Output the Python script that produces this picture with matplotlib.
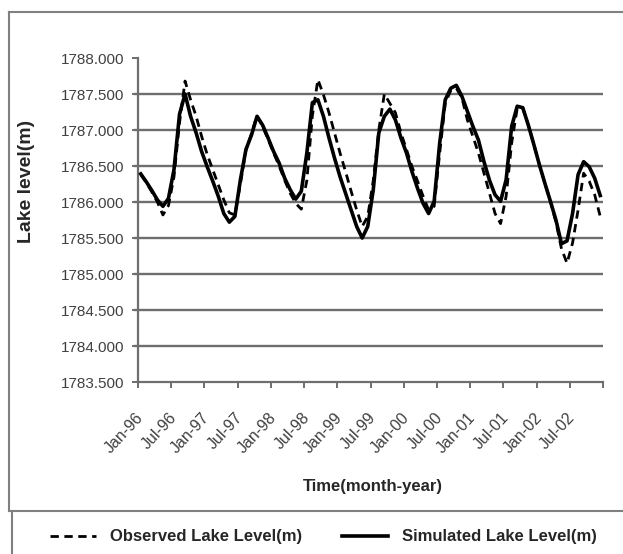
import matplotlib
matplotlib.use('Agg')
import matplotlib.pyplot as plt
from matplotlib.lines import Line2D

plt.rcParams['font.family'] = ['Liberation Sans', 'DejaVu Sans']

simulated = [1786.39, 1786.28, 1786.16, 1786.03, 1785.94, 1786.05, 1786.45, 1787.22, 1787.50, 1787.19,
             1786.96, 1786.70, 1786.49, 1786.29, 1786.08, 1785.84, 1785.72, 1785.80, 1786.31, 1786.73,
             1786.93, 1787.19, 1787.07, 1786.89, 1786.70, 1786.54, 1786.33, 1786.17, 1786.04, 1786.15,
             1786.68, 1787.38, 1787.42, 1787.19, 1786.89, 1786.61, 1786.35, 1786.12, 1785.89, 1785.66,
             1785.50, 1785.66, 1786.17, 1786.96, 1787.19, 1787.29, 1787.14, 1786.89, 1786.68, 1786.42,
             1786.19, 1785.98, 1785.84, 1786.01, 1786.82, 1787.42, 1787.58, 1787.62, 1787.47, 1787.26,
             1787.05, 1786.86, 1786.56, 1786.30, 1786.10, 1786.01, 1786.31, 1787.05, 1787.33, 1787.31,
             1787.07, 1786.80, 1786.52, 1786.26, 1786.01, 1785.75, 1785.42, 1785.46, 1785.84, 1786.38,
             1786.56, 1786.49, 1786.33, 1786.09]

observed = [1786.38, 1786.27, 1786.14, 1786.00, 1785.82, 1785.95, 1786.35, 1787.10, 1787.68, 1787.42,
            1787.19, 1786.91, 1786.66, 1786.45, 1786.24, 1786.03, 1785.85, 1785.82, 1786.25, 1786.72,
            1786.95, 1787.20, 1787.05, 1786.87, 1786.68, 1786.50, 1786.30, 1786.12, 1785.98, 1785.90,
            1786.30, 1787.20, 1787.70, 1787.49, 1787.24, 1786.96, 1786.68, 1786.42, 1786.15, 1785.89,
            1785.66, 1785.80, 1786.30, 1787.00, 1787.50, 1787.37, 1787.24, 1786.96, 1786.73, 1786.49,
            1786.29, 1786.08, 1785.89, 1785.94, 1786.68, 1787.37, 1787.55, 1787.58, 1787.45, 1787.14,
            1786.91, 1786.68, 1786.40, 1786.12, 1785.84, 1785.70, 1786.08, 1786.82, 1787.30, 1787.31,
            1787.07, 1786.80, 1786.52, 1786.26, 1786.01, 1785.72, 1785.35, 1785.15, 1785.43, 1785.89,
            1786.40, 1786.29, 1786.10, 1785.80]

tick_labels = ['Jan-96', 'Jul-96', 'Jan-97', 'Jul-97', 'Jan-98', 'Jul-98', 'Jan-99',
               'Jul-99', 'Jan-00', 'Jul-00', 'Jan-01', 'Jul-01', 'Jan-02', 'Jul-02']
y_ticks = [1783.5, 1784.0, 1784.5, 1785.0, 1785.5, 1786.0, 1786.5, 1787.0, 1787.5, 1788.0]

W, H = 623, 554
fig = plt.figure(figsize=(W / 100, H / 100), dpi=100)
fig.patch.set_facecolor('white')

ax = fig.add_axes([138 / W, 1 - 382 / H, (603 - 138) / W, (382 - 58) / H])

n = len(simulated)
xs = [i + 0.5 for i in range(n)]

grid_col = '#6e6e6e'
ax.set_xlim(0, n)
ax.set_ylim(y_ticks[0], y_ticks[-1])
ax.hlines(y_ticks[1:-1], -0.8, n, colors=grid_col, linewidth=1.7, clip_on=False, zorder=1)

ax.plot(xs, observed, color='black', linewidth=2.0, linestyle=(0, (3.0, 2.0)), zorder=3,
        label='Observed Lake Level(m)')
ax.plot(xs, simulated, color='black', linewidth=2.6, zorder=4,
        label='Simulated Lake Level(m)')

for s in ['top', 'right']:
    ax.spines[s].set_visible(False)
for s in ['left', 'bottom']:
    ax.spines[s].set_color(grid_col)
    ax.spines[s].set_linewidth(1.6)

ax.set_yticks(y_ticks)
ax.set_yticklabels(['%.3f' % v for v in y_ticks])
ax.tick_params(axis='y', direction='out', length=4, width=1.4, color=grid_col,
               labelsize=11, labelcolor='#404040', pad=6)

ax.set_xticks([6 * k for k in range(n // 6 + 1)])
ax.set_xticklabels([])
ax.tick_params(axis='x', which='major', direction='out', length=4, width=1.4, color=grid_col)
ax.set_xticks([6 * k + 0.5 for k in range(len(tick_labels))], minor=True)
ax.set_xticklabels(tick_labels, minor=True, rotation=47, ha='right', va='center',
                   rotation_mode='anchor', fontsize=11.5, color='#404040')
ax.tick_params(axis='x', which='minor', length=0, pad=24)

fig.text(373 / W, 1 - 487 / H, 'Time(month-year)', ha='center', va='center',
         fontsize=12, fontweight='bold', color='#262626')
fig.text(27 / W, 1 - 181 / H, 'Lake level(m)', ha='center', va='center', rotation=90,
         fontsize=14, fontweight='bold', color='#262626')

# chart frame and legend box
fc = '#808080'
fig.add_artist(Line2D([9 / W, 9 / W], [1 - 12 / H, 1 - 511 / H], color=fc, lw=1.5))
fig.add_artist(Line2D([9 / W, 1.0], [1 - 12 / H, 1 - 12 / H], color=fc, lw=1.5))
fig.add_artist(Line2D([9 / W, 1.0], [1 - 511 / H, 1 - 511 / H], color=fc, lw=1.5))
fig.add_artist(Line2D([12 / W, 12 / W], [1 - 513 / H, 0.0], color=fc, lw=1.5))

handles, labels = ax.get_legend_handles_labels()
leg = fig.legend(handles, labels, loc='center', bbox_to_anchor=(323 / W, 1 - 537 / H), ncol=2,
                 frameon=False, handlelength=2.8, handletextpad=0.8, columnspacing=2.4,
                 prop={'size': 12, 'weight': 'bold'})
for t in leg.get_texts():
    t.set_color('#262626')

fig.savefig('out.png', dpi=100, facecolor='white')
